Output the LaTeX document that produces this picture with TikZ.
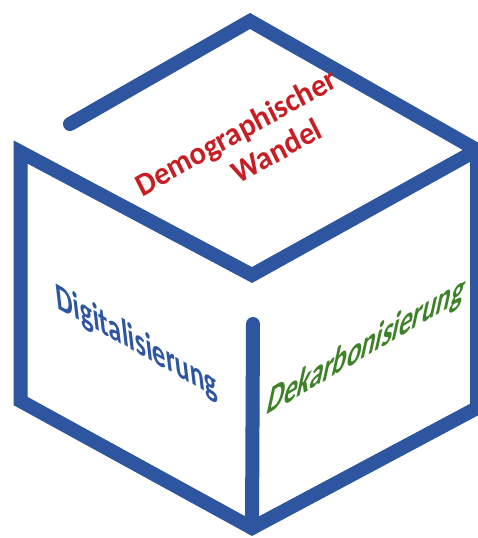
\documentclass[tikz,border=0pt]{standalone}
\usepackage{fontspec}
\setmainfont{Carlito}
\definecolor{cubeblue}{RGB}{45,85,160}
\definecolor{demored}{RGB}{200,30,35}
\definecolor{carbgreen}{RGB}{62,130,40}

\tikzset{
  edge/.style={line width=14pt, cubeblue, line cap=round, line join=miter},
  facetext/.style={font=\fontsize{30.5}{35}\selectfont\bfseries, inner sep=0pt, yscale=1.06}
}

\begin{document}
\begin{tikzpicture}[x=1pt, y=-1pt]
  \useasboundingbox (0,0) rectangle (478,538);
  \clip (0,0) rectangle (478,538);
  % cube corners
  \coordinate (top) at (250,21);
  \coordinate (gapend) at (70,124);
  \coordinate (right) at (477,150);
  \coordinate (mid) at (252,275);
  \coordinate (left) at (20.5,152);
  \coordinate (leftbot) at (20.5,401);
  \coordinate (bot) at (252,528);
  \coordinate (rightbot) at (477,408);
  \coordinate (midtop) at (253,324);
  % edges
  \draw[edge] (gapend) -- (top) -- (right) -- (mid) -- (left) -- (leftbot) -- (bot) -- (rightbot) -- (right);
  \draw[edge] (midtop) -- (bot);
  % labels on the faces
  \node[facetext, demored, rotate=28, align=center] (demo) at (244,148)
    {Demographischer\\\hspace*{55pt}Wandel};
  \node[facetext, cubeblue, rotate=-28, xslant=-0.7] (digital) at (137,343) {Digitalisierung};
  \node[facetext, carbgreen, rotate=29, xslant=0.9] (dekarb) at (366,347) {Dekarbonisierung};
\end{tikzpicture}
\end{document}
